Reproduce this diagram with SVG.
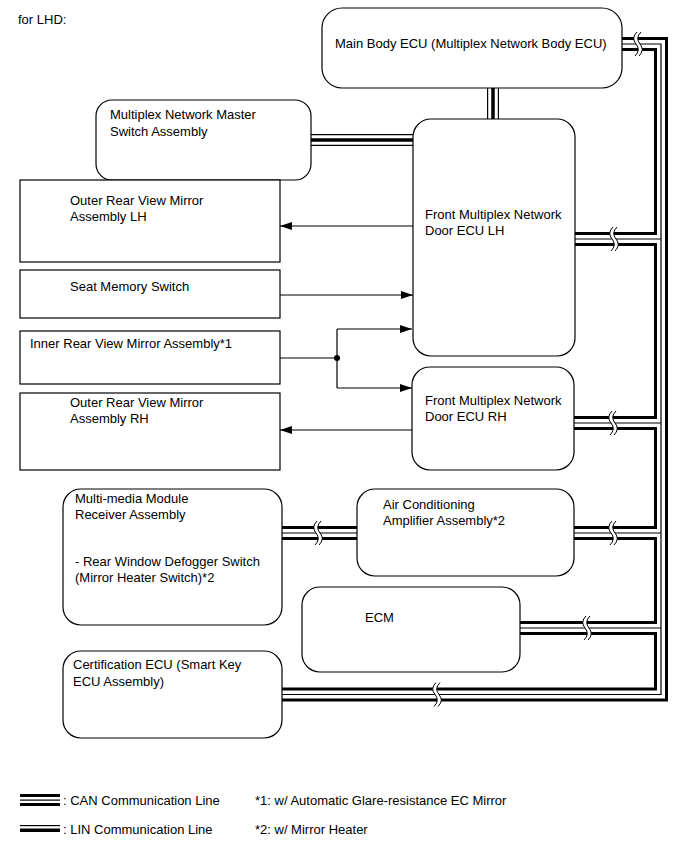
<svg xmlns="http://www.w3.org/2000/svg" xmlns:xlink="http://www.w3.org/1999/xlink" width="689" height="854" viewBox="0 0 689 854">
<style>
text{font-family:"Liberation Sans",Arial,sans-serif;font-size:13px;fill:#000}
.box{fill:#fff;stroke:#000;stroke-width:1.2}
.ca{fill:none;stroke:#000;stroke-width:14;stroke-linejoin:miter}
.cb{fill:none;stroke:#fff;stroke-width:8;stroke-linejoin:miter}
.cc{fill:none;stroke:#000;stroke-width:1.2;stroke-linejoin:miter}
.la{fill:none;stroke:#000;stroke-width:12}
.lb{fill:none;stroke:#fff;stroke-width:9.6}
.lc{fill:none;stroke:#000;stroke-width:3.5}
.ar{fill:none;stroke:#000;stroke-width:1.2}
</style>
<defs>
<marker id="ah" viewBox="0 0 12 8" refX="12" refY="4" markerWidth="12" markerHeight="8" markerUnits="userSpaceOnUse" orient="auto">
<path d="M0,0 L12,4 L0,8 Z" fill="#000"/>
</marker>
<g id="brk">
<path d="M-1,-12 Q-7,-6 -2,0 Q3,6 -3,12 L1,12 Q7,6 2,0 Q-3,-6 3,-12 Z" fill="#fff" stroke="none"/>
<path d="M-1,-12 Q-7,-6 -2,0 Q3,6 -3,12" fill="none" stroke="#000" stroke-width="1"/>
<path d="M3,-12 Q-3,-6 2,0 Q7,6 1,12" fill="none" stroke="#000" stroke-width="1"/>
</g>
</defs>
<rect width="689" height="854" fill="#fff"/>
<text x="18" y="24">for LHD:</text>

<g id="connectors">
<g id="can">
<path class="ca" d="M622,44 H661 V694.5 H282 M575,239 H661 M574,423 H661 M574,533 H661 M520,628 H661 M282,533 H357"/>
<path class="cb" d="M622,44 H661 V694.5 H282 M575,239 H661 M574,423 H661 M574,533 H661 M520,628 H661 M282,533 H357"/>
<path class="cc" d="M622,44 H661 V694.5 H282 M575,239 H661 M574,423 H661 M574,533 H661 M520,628 H661 M282,533 H357"/>
<use xlink:href="#brk" x="638" y="44"/>
<use xlink:href="#brk" x="614" y="239"/>
<use xlink:href="#brk" x="613" y="423"/>
<use xlink:href="#brk" x="613" y="533"/>
<use xlink:href="#brk" x="587" y="628"/>
<use xlink:href="#brk" x="437" y="694.5"/>
<use xlink:href="#brk" x="318" y="533"/>
</g>
<g id="lin">
<path class="la" d="M311,140 H413 M493,88 V119"/>
<path class="lb" d="M311,140 H413 M493,88 V119"/>
<path class="lc" d="M311,140 H413 M493,88 V119"/>
</g>
<g id="arrows">
<path class="ar" d="M413,226 H280" marker-end="url(#ah)"/>
<path class="ar" d="M280,295 H413" marker-end="url(#ah)"/>
<path class="ar" d="M280,358 H337 M337,329 V388"/>
<path class="ar" d="M337,329 H412" marker-end="url(#ah)"/>
<path class="ar" d="M337,388 H412" marker-end="url(#ah)"/>
<circle cx="337" cy="358" r="3" fill="#000"/>
<path class="ar" d="M412,430 H280" marker-end="url(#ah)"/>
</g>
</g>

<g id="main-body-ecu">
<rect class="box" x="322" y="8" width="300" height="80" rx="20"/>
<text x="335" y="48">Main Body ECU (Multiplex Network Body ECU)</text>
</g>
<g id="master-switch">
<rect class="box" x="96" y="100" width="215" height="80" rx="16"/>
<text x="110" y="119">Multiplex Network Master</text>
<text x="110" y="136">Switch Assembly</text>
</g>
<g id="front-ecu-lh">
<rect class="box" x="413" y="119" width="162" height="237" rx="18"/>
<text x="425" y="219">Front Multiplex Network</text>
<text x="425" y="235">Door ECU LH</text>
</g>
<g id="outer-mirror-lh">
<rect class="box" x="20" y="180" width="260" height="82"/>
<text x="70" y="205">Outer Rear View Mirror</text>
<text x="70" y="221">Assembly LH</text>
</g>
<g id="seat-memory">
<rect class="box" x="20" y="270" width="260" height="48"/>
<text x="70" y="291">Seat Memory Switch</text>
</g>
<g id="inner-mirror">
<rect class="box" x="20" y="331" width="260" height="53"/>
<text x="30" y="348">Inner Rear View Mirror Assembly*1</text>
</g>
<g id="front-ecu-rh">
<rect class="box" x="412" y="367" width="162" height="103" rx="18"/>
<text x="425" y="405">Front Multiplex Network</text>
<text x="425" y="421">Door ECU RH</text>
</g>
<g id="outer-mirror-rh">
<rect class="box" x="20" y="393" width="260" height="77"/>
<text x="70" y="407">Outer Rear View Mirror</text>
<text x="70" y="423">Assembly RH</text>
</g>
<g id="multimedia">
<rect class="box" x="63" y="489" width="219" height="136" rx="18"/>
<text x="75" y="503">Multi-media Module</text>
<text x="75" y="519">Receiver Assembly</text>
<text x="75" y="566">- Rear Window Defogger Switch</text>
<text x="75" y="582">(Mirror Heater Switch)*2</text>
</g>
<g id="air-conditioning">
<rect class="box" x="357" y="489" width="217" height="87" rx="18"/>
<text x="383" y="509">Air Conditioning</text>
<text x="383" y="525">Amplifier Assembly*2</text>
</g>
<g id="ecm">
<rect class="box" x="302" y="587" width="218" height="85" rx="18"/>
<text x="365" y="622">ECM</text>
</g>
<g id="certification-ecu">
<rect class="box" x="63" y="651" width="219" height="87" rx="18"/>
<text x="73" y="669">Certification ECU (Smart Key</text>
<text x="73" y="686">ECU Assembly)</text>
</g>

<g id="legend">
<rect x="20" y="794" width="40" height="3"/>
<rect x="20" y="799.5" width="40" height="1.2"/>
<rect x="20" y="803" width="40" height="3"/>
<text x="63" y="805">: CAN Communication Line</text>
<text x="255" y="805">*1: w/ Automatic Glare-resistance EC Mirror</text>
<rect x="20" y="825" width="40" height="1.2"/>
<rect x="20" y="828.5" width="40" height="3.5"/>
<text x="63" y="834">: LIN Communication Line</text>
<text x="255" y="834">*2: w/ Mirror Heater</text>
</g>
</svg>
